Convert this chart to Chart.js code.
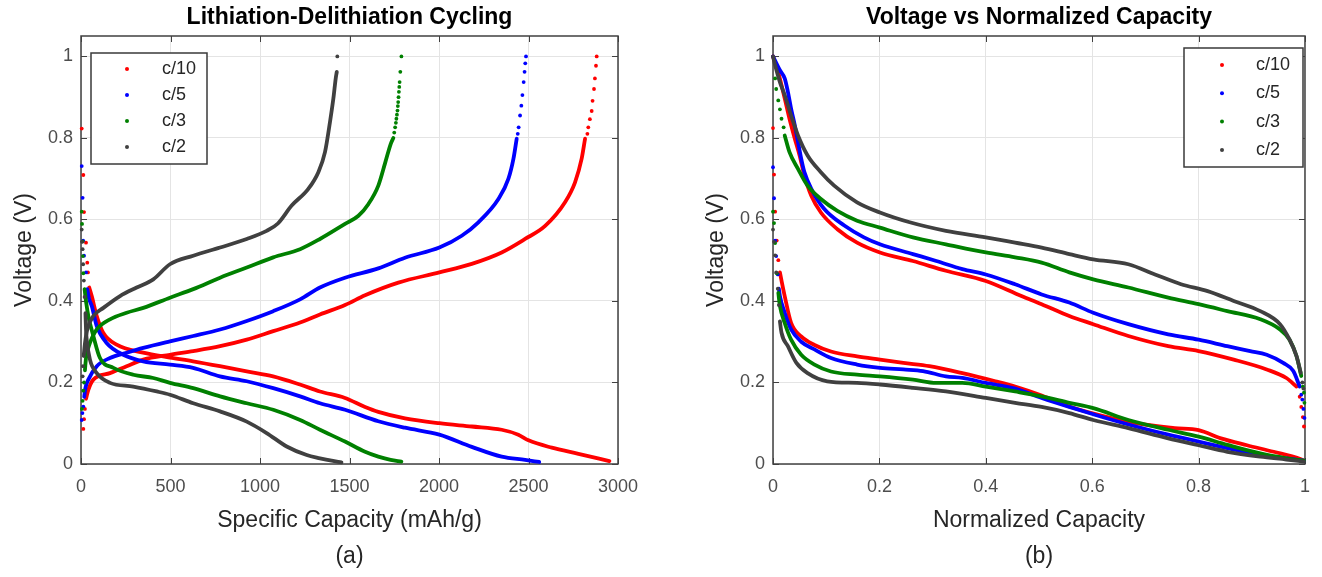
<!DOCTYPE html>
<html>
<head>
<meta charset="utf-8">
<script src="https://cdn.jsdelivr.net/npm/chart.js@4.4.1/dist/chart.umd.min.js"></script>
<style>
  html, body { margin: 0; padding: 0; background: #fff; overflow: hidden; }
  #wrap { position: relative; width: 1322px; height: 577px; }
  canvas { position: absolute; top: 0; }
  #chartA { left: 0; }
  #chartB { left: 660px; }
</style>
</head>
<body>
<div id="wrap">
  <canvas id="chartA" width="660" height="577"></canvas>
  <canvas id="chartB" width="662" height="577"></canvas>
</div>
<script>
// series names and tick values
const rates = ['c/10', 'c/5', 'c/3', 'c/2'];
const aXTicks = [0, 500, 1000, 1500, 2000, 2500, 3000];
const bXTicks = [0, 0.2, 0.4, 0.6, 0.8, 1];
const yTicks = [0, 0.2, 0.4, 0.6, 0.8, 1];

// (a) specific capacity (mAh/g) vs voltage (V)
const a10Lith = [[46,0.433],[60,0.412],[88,0.363],[124,0.322],[199,0.293],[347,0.273],[497,0.261],[626,0.252],[776,0.24],[926,0.227],[1073,0.215],[1223,0.195],[1335,0.178],[1475,0.162],[1587,0.14],[1661,0.128],[1810,0.112],[2002,0.1],[2183,0.092],[2350,0.084],[2443,0.072],[2500,0.058],[2630,0.04],[2779,0.025],[2952,0.007]];
const a10Delith = [[28,0.16],[41,0.182],[69,0.207],[162,0.223],[255,0.24],[348,0.256],[497,0.268],[627,0.277],[777,0.289],[926,0.305],[1074,0.326],[1224,0.347],[1335,0.367],[1475,0.39],[1587,0.414],[1773,0.445],[2002,0.47],[2183,0.491],[2350,0.519],[2481,0.552],[2593,0.584],[2704,0.642],[2760,0.691],[2797,0.749],[2816,0.798]];
const a10Dots = [[4,0.823],[13,0.709],[17,0.618],[28,0.543],[35,0.494],[39,0.47],[13,0.086],[17,0.11],[22,0.135],[2829,0.81],[2834,0.826],[2843,0.846],[2853,0.866],[2858,0.891],[2866,0.92],[2871,0.946],[2877,0.977],[2881,1.0]];

const a5Lith = [[35,0.429],[45,0.405],[60,0.388],[88,0.338],[143,0.297],[236,0.268],[348,0.252],[497,0.244],[626,0.236],[776,0.215],[926,0.203],[1074,0.186],[1224,0.166],[1335,0.149],[1475,0.133],[1661,0.105],[1810,0.089],[2002,0.072],[2183,0.042],[2350,0.018],[2481,0.01],[2560,0.005]];
const a5Delith = [[18,0.165],[24,0.185],[41,0.207],[88,0.24],[162,0.26],[255,0.273],[348,0.285],[497,0.301],[627,0.314],[777,0.33],[926,0.351],[1074,0.375],[1224,0.404],[1335,0.433],[1475,0.457],[1661,0.48],[1810,0.506],[2002,0.531],[2127,0.56],[2220,0.593],[2332,0.65],[2388,0.7],[2416,0.749],[2434,0.798]];
const a5Dots = [[4,0.731],[9,0.653],[12,0.548],[17,0.511],[28,0.47],[4,0.108],[8,0.125],[13,0.141],[2440,0.81],[2445,0.826],[2453,0.855],[2460,0.879],[2466,0.905],[2473,0.937],[2478,0.962],[2482,0.983],[2486,1.0]];

const a3Lith = [[20,0.429],[30,0.393],[41,0.363],[69,0.314],[106,0.26],[181,0.236],[292,0.219],[404,0.211],[497,0.199],[627,0.186],[777,0.166],[926,0.149],[1074,0.133],[1224,0.108],[1335,0.084],[1475,0.055],[1587,0.03],[1661,0.018],[1730,0.01],[1790,0.006]];
const a3Delith = [[22,0.23],[28,0.26],[38,0.28],[50,0.297],[88,0.33],[162,0.355],[255,0.371],[348,0.383],[497,0.408],[627,0.429],[777,0.457],[926,0.482],[1074,0.507],[1224,0.527],[1335,0.552],[1475,0.589],[1550,0.609],[1606,0.638],[1661,0.683],[1700,0.74],[1730,0.785],[1745,0.8]];
const a3Dots = [[4,0.619],[6,0.589],[9,0.546],[11,0.51],[13,0.468],[5,0.135],[9,0.155],[13,0.18],[17,0.2],[1750,0.813],[1755,0.826],[1759,0.837],[1762,0.847],[1765,0.857],[1768,0.867],[1770,0.878],[1772,0.888],[1774,0.9],[1776,0.913],[1778,0.925],[1780,0.937],[1784,0.962],[1790,1.0]];

const a2Lith = [[25,0.37],[28,0.33],[32,0.305],[50,0.256],[88,0.223],[162,0.199],[292,0.19],[423,0.178],[497,0.17],[627,0.149],[777,0.129],[926,0.104],[1037,0.076],[1149,0.043],[1261,0.022],[1335,0.014],[1400,0.008],[1455,0.004]];
const a2Delith = [[15,0.265],[22,0.295],[35,0.33],[69,0.363],[125,0.383],[218,0.412],[311,0.433],[404,0.453],[497,0.49],[627,0.511],[777,0.531],[926,0.552],[1037,0.572],[1100,0.59],[1177,0.634],[1270,0.675],[1326,0.716],[1363,0.765],[1391,0.839],[1410,0.897],[1423,0.946],[1429,0.962]];
const a2Dots = [[4,0.575],[6,0.545],[9,0.527],[12,0.49],[16,0.45],[20,0.41],[9,0.215],[11,0.24],[1432,1.0]];

// (b) normalized capacity vs voltage (V)
const b10Upper = [[0,1.0],[0.01,0.96],[0.022,0.897],[0.031,0.847],[0.041,0.798],[0.05,0.757],[0.059,0.708],[0.072,0.658],[0.09,0.617],[0.121,0.576],[0.158,0.543],[0.201,0.519],[0.263,0.498],[0.325,0.474],[0.4,0.449],[0.467,0.412],[0.505,0.392],[0.557,0.363],[0.602,0.343],[0.668,0.314],[0.743,0.289],[0.8,0.277],[0.866,0.256],[0.928,0.232],[0.965,0.211],[0.984,0.19]];
const b10Lower = [[0.013,0.47],[0.016,0.45],[0.022,0.412],[0.034,0.346],[0.053,0.313],[0.078,0.292],[0.109,0.276],[0.158,0.264],[0.201,0.256],[0.245,0.248],[0.294,0.24],[0.356,0.223],[0.418,0.203],[0.455,0.19],[0.505,0.168],[0.557,0.141],[0.619,0.118],[0.681,0.1],[0.755,0.088],[0.8,0.083],[0.842,0.063],[0.891,0.046],[0.941,0.03],[0.99,0.013],[0.998,0.008]];
const b10Dots = [[0,0.824],[0.002,0.71],[0.004,0.619],[0.007,0.548],[0.01,0.5],[0.99,0.165],[0.993,0.14],[0.996,0.115],[0.998,0.092]];

const b5Upper = [[0,1.0],[0.013,0.966],[0.022,0.946],[0.028,0.913],[0.034,0.872],[0.041,0.831],[0.047,0.79],[0.053,0.749],[0.059,0.716],[0.072,0.675],[0.096,0.626],[0.134,0.585],[0.171,0.556],[0.201,0.539],[0.263,0.515],[0.307,0.498],[0.356,0.478],[0.4,0.465],[0.455,0.441],[0.505,0.416],[0.557,0.396],[0.602,0.371],[0.668,0.343],[0.743,0.318],[0.8,0.305],[0.854,0.289],[0.897,0.277],[0.928,0.268],[0.959,0.248],[0.978,0.228],[0.99,0.19]];
const b5Lower = [[0.011,0.43],[0.013,0.412],[0.022,0.371],[0.034,0.33],[0.053,0.3],[0.078,0.281],[0.109,0.26],[0.158,0.244],[0.201,0.236],[0.245,0.232],[0.282,0.228],[0.325,0.215],[0.356,0.211],[0.4,0.199],[0.455,0.185],[0.505,0.162],[0.557,0.14],[0.602,0.122],[0.668,0.097],[0.743,0.072],[0.8,0.055],[0.854,0.039],[0.916,0.022],[0.965,0.014],[0.998,0.008]];
const b5Dots = [[0,0.728],[0.002,0.652],[0.004,0.548],[0.006,0.51],[0.009,0.465],[0.993,0.17],[0.995,0.158],[0.997,0.135],[0.999,0.113]];

const b3Upper = [[0.022,0.806],[0.031,0.765],[0.047,0.724],[0.065,0.683],[0.09,0.65],[0.121,0.621],[0.158,0.597],[0.201,0.58],[0.263,0.556],[0.325,0.539],[0.4,0.519],[0.455,0.507],[0.505,0.494],[0.557,0.47],[0.602,0.453],[0.668,0.433],[0.743,0.408],[0.8,0.392],[0.854,0.375],[0.916,0.355],[0.953,0.33],[0.971,0.305],[0.984,0.265],[0.993,0.216]];
const b3Lower = [[0.01,0.42],[0.013,0.388],[0.022,0.346],[0.034,0.305],[0.053,0.268],[0.078,0.244],[0.109,0.227],[0.158,0.219],[0.201,0.215],[0.263,0.207],[0.307,0.199],[0.356,0.199],[0.4,0.19],[0.455,0.178],[0.505,0.166],[0.557,0.15],[0.602,0.137],[0.668,0.108],[0.743,0.084],[0.8,0.067],[0.854,0.047],[0.916,0.026],[0.965,0.014],[0.998,0.008]];
const b3Dots = [[0.004,0.946],[0.006,0.92],[0.0099,0.892],[0.013,0.87],[0.016,0.847],[0.02,0.826],[0,0.619],[0.002,0.591],[0.004,0.542],[0.007,0.468],[0.996,0.19],[0.998,0.175],[0.999,0.15]];

const b2Upper = [[0,1.0],[0.004,0.978],[0.013,0.937],[0.022,0.905],[0.034,0.855],[0.047,0.806],[0.065,0.757],[0.09,0.716],[0.115,0.683],[0.158,0.642],[0.201,0.617],[0.257,0.593],[0.325,0.572],[0.4,0.556],[0.455,0.543],[0.505,0.531],[0.557,0.515],[0.602,0.502],[0.668,0.49],[0.718,0.465],[0.767,0.441],[0.817,0.424],[0.866,0.4],[0.916,0.375],[0.953,0.343],[0.971,0.305],[0.984,0.265],[0.992,0.224]];
const b2Lower = [[0.013,0.35],[0.016,0.322],[0.028,0.289],[0.044,0.248],[0.065,0.223],[0.102,0.203],[0.158,0.199],[0.201,0.195],[0.263,0.187],[0.325,0.178],[0.4,0.162],[0.455,0.15],[0.505,0.14],[0.557,0.125],[0.602,0.108],[0.668,0.088],[0.743,0.063],[0.8,0.046],[0.854,0.03],[0.916,0.018],[0.965,0.011],[0.998,0.006]];
const b2Dots = [[0,0.575],[0.002,0.545],[0.004,0.512],[0.006,0.47],[0.009,0.43],[0.011,0.39],[0.995,0.2],[0.997,0.185]];

const rateColors = ['#ff0000', '#0000ff', '#008000', '#404040'];
const fontFamily = '"Liberation Sans", Arial, Helvetica, sans-serif';

Chart.defaults.font.family = fontFamily;
Chart.defaults.animation = false;

function toPts(arr) {
    return arr.map(p => ({ x: p[0], y: p[1] }));
}

// one line dataset per branch plus one dataset for the loose dots
function buildDatasets(lines, dots) {
    const sets = [];
    rates.forEach((rate, i) => {
        lines[i].forEach(branch => {
            sets.push({
                label: rate,
                data: toPts(branch),
                showLine: true,
                borderColor: rateColors[i],
                backgroundColor: rateColors[i],
                borderWidth: 3.8,
                borderCapStyle: 'round',
                borderJoinStyle: 'round',
                pointRadius: 0,
                cubicInterpolationMode: 'monotone',
                clip: 8,
                order: 3 - i
            });
        });
        sets.push({
            label: rate,
            data: toPts(dots[i]),
            showLine: false,
            backgroundColor: rateColors[i],
            borderWidth: 0,
            pointRadius: 1.9,
            clip: 8,
            order: 3 - i
        });
    });
    return sets;
}

// axes box with inward tick marks on all four sides
const axesBox = {
    id: 'axesBox',
    beforeDatasetsDraw(chart) {
        const { ctx, chartArea: a, scales: { x, y } } = chart;
        const tl = 6;
        ctx.save();
        ctx.strokeStyle = '#404040';
        ctx.lineWidth = 1;
        ctx.beginPath();
        x.ticks.forEach(t => {
            const px = Math.round(x.getPixelForValue(t.value)) + 0.5;
            ctx.moveTo(px, a.bottom); ctx.lineTo(px, a.bottom - tl);
            ctx.moveTo(px, a.top); ctx.lineTo(px, a.top + tl);
        });
        y.ticks.forEach(t => {
            const py = Math.round(y.getPixelForValue(t.value)) + 0.5;
            ctx.moveTo(a.left, py); ctx.lineTo(a.left + tl, py);
            ctx.moveTo(a.right, py); ctx.lineTo(a.right - tl, py);
        });
        ctx.stroke();
        ctx.lineWidth = 1.5;
        ctx.strokeRect(a.left, a.top, a.right - a.left, a.bottom - a.top);
        ctx.restore();
    }
};

// panel title on top and (a)/(b) caption underneath, centred on the plot
const panelText = {
    id: 'panelText',
    afterDraw(chart, args, opts) {
        const { ctx, chartArea: a } = chart;
        const cx = (a.left + a.right) / 2;
        ctx.save();
        ctx.textAlign = 'center';
        ctx.textBaseline = 'middle';
        ctx.fillStyle = '#000';
        ctx.font = 'bold 23px ' + fontFamily;
        ctx.fillText(opts.title, cx, 18);
        ctx.fillStyle = '#262626';
        ctx.font = '23px ' + fontFamily;
        ctx.fillText(opts.caption, cx, 557);
        ctx.restore();
    }
};

// boxed legend inside the axes
const boxLegend = {
    id: 'boxLegend',
    afterDatasetsDraw(chart, args, o) {
        const { ctx } = chart;
        ctx.save();
        ctx.fillStyle = '#fff';
        ctx.fillRect(o.left, o.top, o.width, o.height);
        ctx.strokeStyle = '#3a3a3a';
        ctx.lineWidth = 1.5;
        ctx.strokeRect(o.left, o.top, o.width, o.height);
        ctx.font = '18px ' + fontFamily;
        ctx.textBaseline = 'middle';
        ctx.textAlign = 'left';
        rates.forEach((r, i) => {
            const yy = o.top + o.firstRow + i * o.rowGap;
            ctx.fillStyle = rateColors[i];
            ctx.beginPath();
            ctx.arc(o.left + o.markerX, yy, 2, 0, Math.PI * 2);
            ctx.fill();
            ctx.fillStyle = '#262626';
            ctx.fillText(r, o.left + o.textX, yy);
        });
        ctx.restore();
    }
};

function makeOptions(cfg) {
    const fmt = v => String(+Number(v).toFixed(2));
    return {
        responsive: false,
        animation: false,
        layout: { padding: { left: 0, right: cfg.padRight, top: 36, bottom: 36 } },
        plugins: {
            legend: { display: false },
            tooltip: { enabled: false },
            panelText: { title: cfg.title, caption: cfg.caption },
            boxLegend: cfg.legend
        },
        scales: {
            x: {
                type: 'linear',
                min: cfg.xMin,
                max: cfg.xMax,
                afterBuildTicks: s => { s.ticks = cfg.xTicks.map(v => ({ value: v })); },
                afterFit: s => { s.height = 77; },
                grid: { color: '#e4e4e4', lineWidth: 1, drawTicks: false },
                border: { display: false },
                ticks: { padding: 12, color: '#4d4d4d', font: { size: 18 }, callback: fmt, maxRotation: 0 },
                title: { display: true, text: cfg.xTitle, color: '#262626', font: { size: 23 }, padding: { top: 0, bottom: 7 } }
            },
            y: {
                type: 'linear',
                min: 0,
                max: 1.05,
                afterBuildTicks: s => { s.ticks = yTicks.map(v => ({ value: v })); },
                afterFit: s => { s.width = cfg.yWidth; },
                grid: { color: '#e4e4e4', lineWidth: 1, drawTicks: false },
                border: { display: false },
                ticks: { padding: 8, color: '#4d4d4d', font: { size: 18 }, callback: fmt },
                title: { display: true, text: 'Voltage (V)', color: '#262626', font: { size: 23 }, padding: { top: cfg.yTitlePad, bottom: 0 } }
            }
        }
    };
}

const chartA = new Chart(document.getElementById('chartA').getContext('2d'), {
    type: 'scatter',
    data: {
        datasets: buildDatasets(
            [[a10Lith, a10Delith], [a5Lith, a5Delith], [a3Lith, a3Delith], [a2Lith, a2Delith]],
            [a10Dots, a5Dots, a3Dots, a2Dots]
        )
    },
    options: makeOptions({
        padRight: 42, yWidth: 81, yTitlePad: 11,
        xMin: 0, xMax: 3000, xTicks: aXTicks,
        xTitle: 'Specific Capacity (mAh/g)',
        title: 'Lithiation-Delithiation Cycling', caption: '(a)',
        legend: { left: 91, top: 53, width: 116, height: 111, firstRow: 16, rowGap: 26, markerX: 36, textX: 71 }
    }),
    plugins: [axesBox, boxLegend, panelText]
});

const chartB = new Chart(document.getElementById('chartB').getContext('2d'), {
    type: 'scatter',
    data: {
        datasets: buildDatasets(
            [[b10Upper, b10Lower], [b5Upper, b5Lower], [b3Upper, b3Lower], [b2Upper, b2Lower]],
            [b10Dots, b5Dots, b3Dots, b2Dots]
        )
    },
    options: makeOptions({
        padRight: 10, yWidth: 113, yTitlePad: 43,
        xMin: 0, xMax: 1, xTicks: bXTicks,
        xTitle: 'Normalized Capacity',
        title: 'Voltage vs Normalized Capacity', caption: '(b)',
        legend: { left: 524, top: 48, width: 119, height: 119, firstRow: 17, rowGap: 28.3, markerX: 38, textX: 72 }
    }),
    plugins: [axesBox, boxLegend, panelText]
});
</script>
</body>
</html>
